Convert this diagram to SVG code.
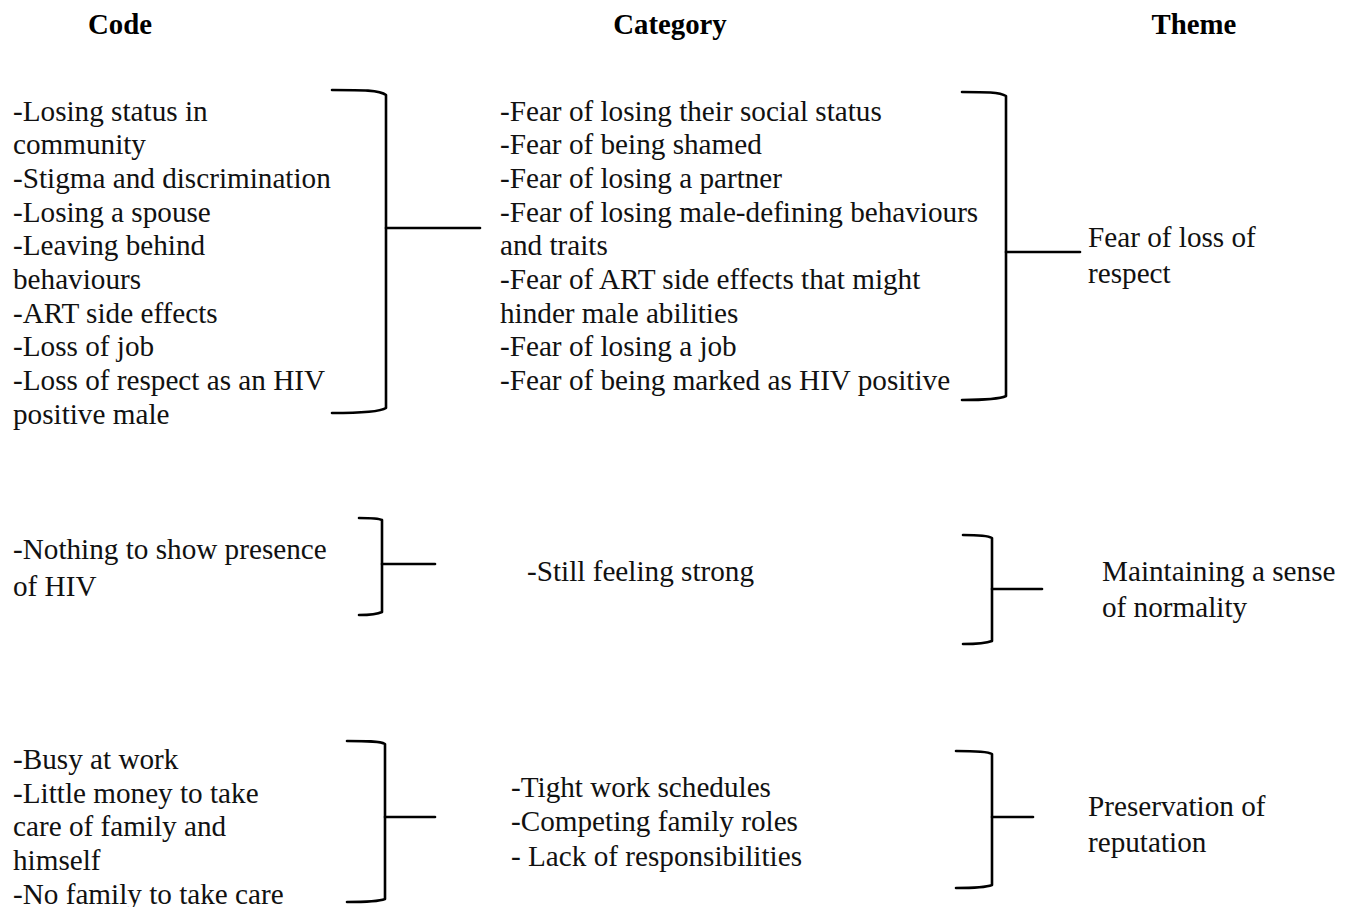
<svg xmlns="http://www.w3.org/2000/svg" width="1351" height="907" viewBox="0 0 1351 907">
<style>
  .t { font-family: "Liberation Serif", "Times New Roman", serif; font-size: 29.2px; fill: #111; }
  .h { font-family: "Liberation Serif", "Times New Roman", serif; font-size: 28.8px; font-weight: bold; fill: #000; text-anchor: middle; }
  .br { fill: none; stroke: #000; stroke-width: 2.6; stroke-linecap: round; stroke-linejoin: round; }
</style>
<rect width="1351" height="907" fill="#fff"/>
<g id="headers">
  <text class="h" x="120" y="34">Code</text>
  <text class="h" x="670" y="34">Category</text>
  <text class="h" x="1194" y="34">Theme</text>
</g>
<g id="code1">
  <text class="t" transform="translate(13,120.5)">
    <tspan x="0" y="0">-Losing status in</tspan>
    <tspan x="0" y="33.7">community</tspan>
    <tspan x="0" y="67.4">-Stigma and discrimination</tspan>
    <tspan x="0" y="101.1">-Losing a spouse</tspan>
    <tspan x="0" y="134.8">-Leaving behind</tspan>
    <tspan x="0" y="168.5">behaviours</tspan>
    <tspan x="0" y="202.2">-ART side effects</tspan>
    <tspan x="0" y="235.9">-Loss of job</tspan>
    <tspan x="0" y="269.6">-Loss of respect as an HIV</tspan>
    <tspan x="0" y="303.3">positive male</tspan>
  </text>
</g>
<g id="category1">
  <text class="t" transform="translate(500,120.5)">
    <tspan x="0" y="0">-Fear of losing their social status</tspan>
    <tspan x="0" y="33.7">-Fear of being shamed</tspan>
    <tspan x="0" y="67.4">-Fear of losing a partner</tspan>
    <tspan x="0" y="101.1">-Fear of losing male-defining behaviours</tspan>
    <tspan x="0" y="134.8">and traits</tspan>
    <tspan x="0" y="168.5">-Fear of ART side effects that might</tspan>
    <tspan x="0" y="202.2">hinder male abilities</tspan>
    <tspan x="0" y="235.9">-Fear of losing a job</tspan>
    <tspan x="0" y="269.6">-Fear of being marked as HIV positive</tspan>
  </text>
</g>
<g id="theme1">
  <text class="t" transform="translate(1088,246.5)">
    <tspan x="0" y="0">Fear of loss of</tspan>
    <tspan x="0" y="36">respect</tspan>
  </text>
</g>
<g id="code2">
  <text class="t" transform="translate(13,559)">
    <tspan x="0" y="0">-Nothing to show presence</tspan>
    <tspan x="0" y="37">of HIV</tspan>
  </text>
</g>
<g id="category2">
  <text class="t" transform="translate(527,580.5)">-Still feeling strong</text>
</g>
<g id="theme2">
  <text class="t" transform="translate(1102,580.5)">
    <tspan x="0" y="0">Maintaining a sense</tspan>
    <tspan x="0" y="36.5">of normality</tspan>
  </text>
</g>
<g id="code3">
  <text class="t" transform="translate(13,769)">
    <tspan x="0" y="0">-Busy at work</tspan>
    <tspan x="0" y="33.7">-Little money to take</tspan>
    <tspan x="0" y="67.4">care of family and</tspan>
    <tspan x="0" y="101.1">himself</tspan>
    <tspan x="0" y="134.8">-No family to take care</tspan>
  </text>
</g>
<g id="category3">
  <text class="t" transform="translate(511,796.5)">
    <tspan x="0" y="0">-Tight work schedules</tspan>
    <tspan x="0" y="34.5">-Competing family roles</tspan>
    <tspan x="0" y="69">- Lack of responsibilities</tspan>
  </text>
</g>
<g id="theme3">
  <text class="t" transform="translate(1088,815.5)">
    <tspan x="0" y="0">Preservation of</tspan>
    <tspan x="0" y="36.5">reputation</tspan>
  </text>
</g>
<g id="connectors">
  <path class="br" d="M332,90 C362,90 380,90 386,95 V408 C380,412 362,413 332,413"/>
  <path class="br" d="M386,228 H480"/>
  <path class="br" d="M962,92 C985,92 1000,92 1006,96 V396 C1000,399 985,400 962,400"/>
  <path class="br" d="M1006,252 H1080"/>
  <path class="br" d="M359,518 C370,518 378,518 382,520 V612 C378,614 370,615 359,615"/>
  <path class="br" d="M382,564 H435"/>
  <path class="br" d="M963,535 C975,535 987,535 992,538 V641 C987,643 975,644 963,644"/>
  <path class="br" d="M992,589 H1042"/>
  <path class="br" d="M347,741 C365,741 380,741 385,744 V899 C380,901 365,902 347,902"/>
  <path class="br" d="M385,817 H435"/>
  <path class="br" d="M956,751 C972,751 987,751 992,754 V885 C987,887 972,888 956,888"/>
  <path class="br" d="M992,817 H1033"/>
</g>
</svg>
